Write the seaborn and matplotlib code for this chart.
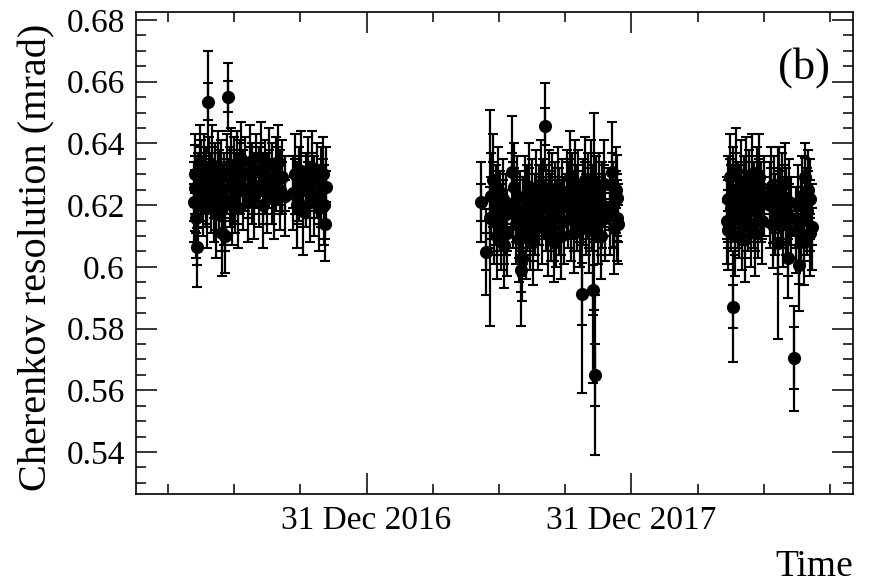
import matplotlib
matplotlib.use("Agg")
import matplotlib.pyplot as plt
import matplotlib.dates as mdates
import seaborn as sns
import pandas as pd
from matplotlib.ticker import FixedLocator, MultipleLocator, FixedFormatter, FuncFormatter

# ---------------- data (days counted from 2016-01-01) ----------------
days_2016 = [127, 128, 129, 130, 131, 132, 133, 135, 137, 139, 141, 143, 145, 146, 148, 150,
             152, 154, 156, 158, 160, 162, 164, 166, 168, 170, 172, 174, 176, 178, 180, 182,
             184, 186, 188, 190, 192, 195, 198, 201, 204, 207, 210, 213, 216, 219, 222, 225,
             228, 231, 234, 237, 240, 243, 246, 249, 252,
             263, 266, 269, 272, 275, 278, 281, 284, 287, 290, 293, 296, 299, 302, 305, 307,
             308, 309]
res_2016 = [0.6210, 0.6300, 0.6255, 0.6160, 0.6065, 0.6250, 0.6200, 0.6340, 0.6280, 0.6220,
            0.6310, 0.6260, 0.6190, 0.6535, 0.6300, 0.6240, 0.6330, 0.6210, 0.6280, 0.6170,
            0.6320, 0.6250, 0.6290, 0.6110, 0.6220, 0.6100, 0.6300, 0.6551, 0.6260, 0.6330,
            0.6200, 0.6280, 0.6240, 0.6320, 0.6190, 0.6290, 0.6350, 0.6250, 0.6300, 0.6210,
            0.6340, 0.6270, 0.6230, 0.6310, 0.6260, 0.6350, 0.6200, 0.6290, 0.6240, 0.6330,
            0.6270, 0.6220, 0.6300, 0.6340, 0.6250, 0.6290, 0.6230,
            0.6240, 0.6300, 0.6200, 0.6270, 0.6310, 0.6180, 0.6250, 0.6290, 0.6210, 0.6320,
            0.6230, 0.6280, 0.6190, 0.6260, 0.6300, 0.6200, 0.6140, 0.6260]
stat_2016 = [0.006, 0.006, 0.006, 0.005, 0.006, 0.005, 0.005, 0.005, 0.006, 0.005,
             0.005, 0.005, 0.005, 0.006, 0.005, 0.005, 0.006, 0.005, 0.005, 0.005,
             0.005, 0.005, 0.005, 0.006, 0.006, 0.005, 0.005, 0.005, 0.005, 0.005,
             0.005, 0.006, 0.005, 0.005, 0.005, 0.005, 0.005, 0.005, 0.005, 0.005,
             0.005, 0.005, 0.006, 0.005, 0.005, 0.005, 0.006, 0.005, 0.005, 0.005,
             0.005, 0.005, 0.005, 0.005, 0.005, 0.005, 0.005,
             0.005, 0.005, 0.006, 0.005, 0.005, 0.005, 0.005, 0.005, 0.005, 0.005,
             0.005, 0.005, 0.005, 0.005, 0.005, 0.005, 0.005, 0.005]
tot_2016 = [0.013, 0.013, 0.014, 0.013, 0.013, 0.012, 0.013, 0.012, 0.013, 0.012,
            0.012, 0.013, 0.013, 0.0165, 0.012, 0.013, 0.013, 0.013, 0.012, 0.014,
            0.012, 0.013, 0.012, 0.014, 0.015, 0.012, 0.013, 0.011, 0.013, 0.012,
            0.013, 0.014, 0.013, 0.012, 0.013, 0.012, 0.012, 0.013, 0.012, 0.013,
            0.012, 0.013, 0.014, 0.012, 0.013, 0.012, 0.014, 0.012, 0.013, 0.012,
            0.013, 0.013, 0.012, 0.012, 0.013, 0.012, 0.013,
            0.012, 0.013, 0.014, 0.012, 0.013, 0.014, 0.012, 0.013, 0.013, 0.012,
            0.013, 0.012, 0.014, 0.013, 0.012, 0.013, 0.012, 0.013]

days_2017 = [523, 530, 535, 537, 539, 541, 543, 545, 547, 549, 551, 553, 555, 557, 559,
             565, 567, 569, 571, 573, 575, 577, 578, 579, 581, 583, 585, 587, 589, 591,
             593, 595, 597, 599, 601, 603, 605, 607, 609, 611, 613, 615, 617, 619, 621,
             623, 625, 627, 629, 631, 633, 635, 637, 641, 643, 645, 647, 649, 651, 653,
             655, 657, 659, 662, 664, 666, 668, 670, 672, 674, 676, 678, 679, 680, 682,
             684, 686, 688, 690, 692, 694, 701, 703, 705, 707, 709, 710, 711, 712]
res_2017 = [0.6210, 0.6049, 0.6160, 0.6230, 0.6280, 0.6150, 0.6200, 0.6100, 0.6250, 0.6180,
            0.6130, 0.6220, 0.6070, 0.6170, 0.6110, 0.6308, 0.6200, 0.6260, 0.6140, 0.6220,
            0.6090, 0.6180, 0.5990, 0.6029, 0.6150, 0.6230, 0.6100, 0.6190, 0.6260, 0.6120,
            0.6210, 0.6080, 0.6170, 0.6240, 0.6130, 0.6200, 0.6270, 0.6150, 0.6220, 0.6455,
            0.6190, 0.6110, 0.6250, 0.6160, 0.6230, 0.6080, 0.6200, 0.6140, 0.6260, 0.6180,
            0.6100, 0.6220, 0.6150, 0.6240, 0.6200, 0.6290, 0.6160, 0.6230, 0.6110, 0.6270,
            0.6190, 0.6250, 0.6140, 0.5912, 0.6210, 0.6280, 0.6170, 0.6230, 0.6120, 0.6260,
            0.6190, 0.5925, 0.6180, 0.5649, 0.6220, 0.6150, 0.6240, 0.6100, 0.6200, 0.6270,
            0.6160, 0.6180, 0.6308, 0.6200, 0.6126, 0.6250, 0.6223, 0.6160, 0.6140]
stat_2017 = [0.006, 0.006, 0.010, 0.006, 0.006, 0.006, 0.005, 0.006, 0.006, 0.005,
             0.006, 0.006, 0.006, 0.005, 0.006, 0.006, 0.006, 0.006, 0.006, 0.006,
             0.006, 0.006, 0.007, 0.006, 0.006, 0.006, 0.006, 0.006, 0.006, 0.006,
             0.006, 0.006, 0.006, 0.006, 0.006, 0.006, 0.006, 0.006, 0.006, 0.006,
             0.006, 0.006, 0.006, 0.006, 0.006, 0.006, 0.006, 0.006, 0.006, 0.006,
             0.006, 0.006, 0.006, 0.006, 0.006, 0.006, 0.006, 0.006, 0.006, 0.006,
             0.006, 0.006, 0.006, 0.010, 0.006, 0.006, 0.006, 0.006, 0.006, 0.006,
             0.006, 0.008, 0.010, 0.010, 0.006, 0.006, 0.006, 0.006, 0.006, 0.006,
             0.006, 0.006, 0.006, 0.006, 0.006, 0.006, 0.006, 0.006, 0.006]
tot_2017 = [0.013, 0.014, 0.035, 0.014, 0.015, 0.014, 0.013, 0.014, 0.014, 0.013,
            0.014, 0.013, 0.014, 0.013, 0.014, 0.018, 0.014, 0.014, 0.013, 0.014,
            0.014, 0.013, 0.018, 0.014, 0.014, 0.013, 0.014, 0.014, 0.014, 0.013,
            0.014, 0.014, 0.013, 0.014, 0.014, 0.013, 0.014, 0.014, 0.013, 0.014,
            0.014, 0.014, 0.013, 0.014, 0.014, 0.013, 0.014, 0.014, 0.013, 0.014,
            0.014, 0.013, 0.014, 0.014, 0.014, 0.015, 0.014, 0.014, 0.013, 0.014,
            0.014, 0.013, 0.014, 0.032, 0.014, 0.014, 0.013, 0.014, 0.014, 0.015,
            0.014, 0.030, 0.032, 0.026, 0.014, 0.014, 0.013, 0.014, 0.014, 0.014,
            0.014, 0.014, 0.016, 0.014, 0.015, 0.014, 0.014, 0.014, 0.013]

days_2018 = [862, 863, 864, 866, 868, 870, 871, 873, 875, 877, 879, 881, 883, 885, 887,
             889, 891, 893, 895, 897, 899, 901, 903, 905, 907, 909, 911, 913,
             921, 923, 925, 927, 929, 932, 934, 936, 938, 940, 942, 944, 946, 948, 950,
             954, 958, 960, 962, 964, 966, 968, 970, 972, 974, 976, 977, 979]
res_2018 = [0.6150, 0.6220, 0.6120, 0.6290, 0.6190, 0.5871, 0.6250, 0.6100, 0.6310, 0.6200,
            0.6160, 0.6270, 0.6130, 0.6230, 0.6090, 0.6280, 0.6180, 0.6240, 0.6140, 0.6300,
            0.6200, 0.6110, 0.6260, 0.6170, 0.6290, 0.6210, 0.6150, 0.6230,
            0.6200, 0.6260, 0.6136, 0.6220, 0.6170, 0.6077, 0.6250, 0.6190, 0.6230, 0.6140,
            0.6270, 0.6180, 0.6029, 0.6210, 0.6160,
            0.5704, 0.6120, 0.6200, 0.6006, 0.6150, 0.6230, 0.6080, 0.6292, 0.6180, 0.6250,
            0.6110, 0.6220, 0.6130]
stat_2018 = [0.006, 0.006, 0.006, 0.006, 0.006, 0.007, 0.006, 0.006, 0.006, 0.006,
             0.006, 0.006, 0.006, 0.006, 0.006, 0.006, 0.006, 0.006, 0.006, 0.006,
             0.006, 0.006, 0.006, 0.006, 0.006, 0.006, 0.006, 0.006,
             0.006, 0.006, 0.006, 0.006, 0.006, 0.010, 0.006, 0.006, 0.006, 0.006,
             0.006, 0.006, 0.006, 0.006, 0.006,
             0.010, 0.006, 0.006, 0.006, 0.006, 0.006, 0.006, 0.006, 0.006, 0.006,
             0.006, 0.006, 0.006]
tot_2018 = [0.014, 0.014, 0.013, 0.014, 0.014, 0.018, 0.014, 0.013, 0.014, 0.014,
            0.013, 0.014, 0.014, 0.013, 0.014, 0.014, 0.013, 0.014, 0.014, 0.013,
            0.014, 0.014, 0.013, 0.014, 0.014, 0.013, 0.014, 0.013,
            0.014, 0.013, 0.014, 0.014, 0.013, 0.031, 0.014, 0.013, 0.014, 0.014,
            0.013, 0.014, 0.013, 0.014, 0.013,
            0.017, 0.014, 0.013, 0.015, 0.014, 0.013, 0.014, 0.011, 0.014, 0.013,
            0.014, 0.013, 0.014]

xtick_labels = ["31 Dec 2016", "31 Dec 2017"]
xtick_dates = ["2016-12-31", "2017-12-31"]
panel_label = "(b)"

# ---------------- assemble ----------------
origin = pd.Timestamp("2016-01-01")
frames = []
for d, r, s, t in [(days_2016, res_2016, stat_2016, tot_2016),
                   (days_2017, res_2017, stat_2017, tot_2017),
                   (days_2018, res_2018, stat_2018, tot_2018)]:
    frames.append(pd.DataFrame({"day": d, "res": r, "stat": s, "tot": t}))
df = pd.concat(frames, ignore_index=True)
df["date"] = origin + pd.to_timedelta(df["day"], unit="D")

# ---------------- style ----------------
sns.set_theme(style="ticks")
plt.rcParams['font.family'] = ['Liberation Serif', 'DejaVu Serif']
plt.rcParams['text.color'] = 'black'
plt.rcParams['axes.labelcolor'] = 'black'
plt.rcParams['xtick.color'] = 'black'
plt.rcParams['ytick.color'] = 'black'

fig = plt.figure(figsize=(8.89, 5.83), dpi=100)
fig.patch.set_facecolor("white")
ax = fig.add_axes([136 / 889, 1 - 494 / 583, (853 - 136) / 889, (494 - 12) / 583])
ax.set_facecolor("white")

ax.errorbar(df["date"], df["res"], yerr=df["tot"], fmt="none", ecolor="black",
            elinewidth=1.6, capsize=3.5, capthick=1.5, zorder=2)
ax.errorbar(df["date"], df["res"], yerr=df["stat"], fmt="none", ecolor="black",
            elinewidth=1.6, capsize=3.5, capthick=1.5, zorder=2)
sns.scatterplot(data=df, x="date", y="res", ax=ax, color="black", s=90,
                linewidth=0, zorder=3, legend=False)

ax.set_xlim(pd.Timestamp("2016-02-17"), pd.Timestamp("2018-11-02"))
ax.set_ylim(0.5264, 0.6826)

# x ticks
major_num = [mdates.date2num(pd.Timestamp(d)) for d in xtick_dates]
quarter = 365.25 / 4
minor_num = [major_num[0] + k * quarter for k in range(-4, 9) if k % 4 != 0]
ax.xaxis.set_major_locator(FixedLocator(major_num))
ax.xaxis.set_major_formatter(FixedFormatter(xtick_labels))
ax.xaxis.set_minor_locator(FixedLocator(minor_num))

ax.yaxis.set_major_locator(MultipleLocator(0.02))
ax.yaxis.set_minor_locator(MultipleLocator(0.005))
ax.yaxis.set_major_formatter(FuncFormatter(
    lambda v, p: "0.6" if abs(v - 0.6) < 1e-9 else f"{v:.2f}"))

ax.tick_params(axis="both", which="major", direction="in", length=15, width=1.1,
               top=True, right=True, labelsize=24, pad=8, colors="black")
ax.tick_params(axis="both", which="minor", direction="in", length=7, width=1.1,
               top=True, right=True, colors="black")
for sp in ax.spines.values():
    sp.set_linewidth(1.2)
    sp.set_color("black")

ax.set_ylabel("Cherenkov resolution (mrad)", fontsize=29, color="black")
ax.yaxis.set_label_coords(-0.113, 0.49)
ax.set_xlabel("Time", fontsize=27, loc="right", labelpad=10, color="black")
ax.text(0.932, 0.885, panel_label, transform=ax.transAxes, fontsize=32,
        ha="center", va="center", color="black")

fig.savefig("out.png", dpi=100, facecolor="white")
